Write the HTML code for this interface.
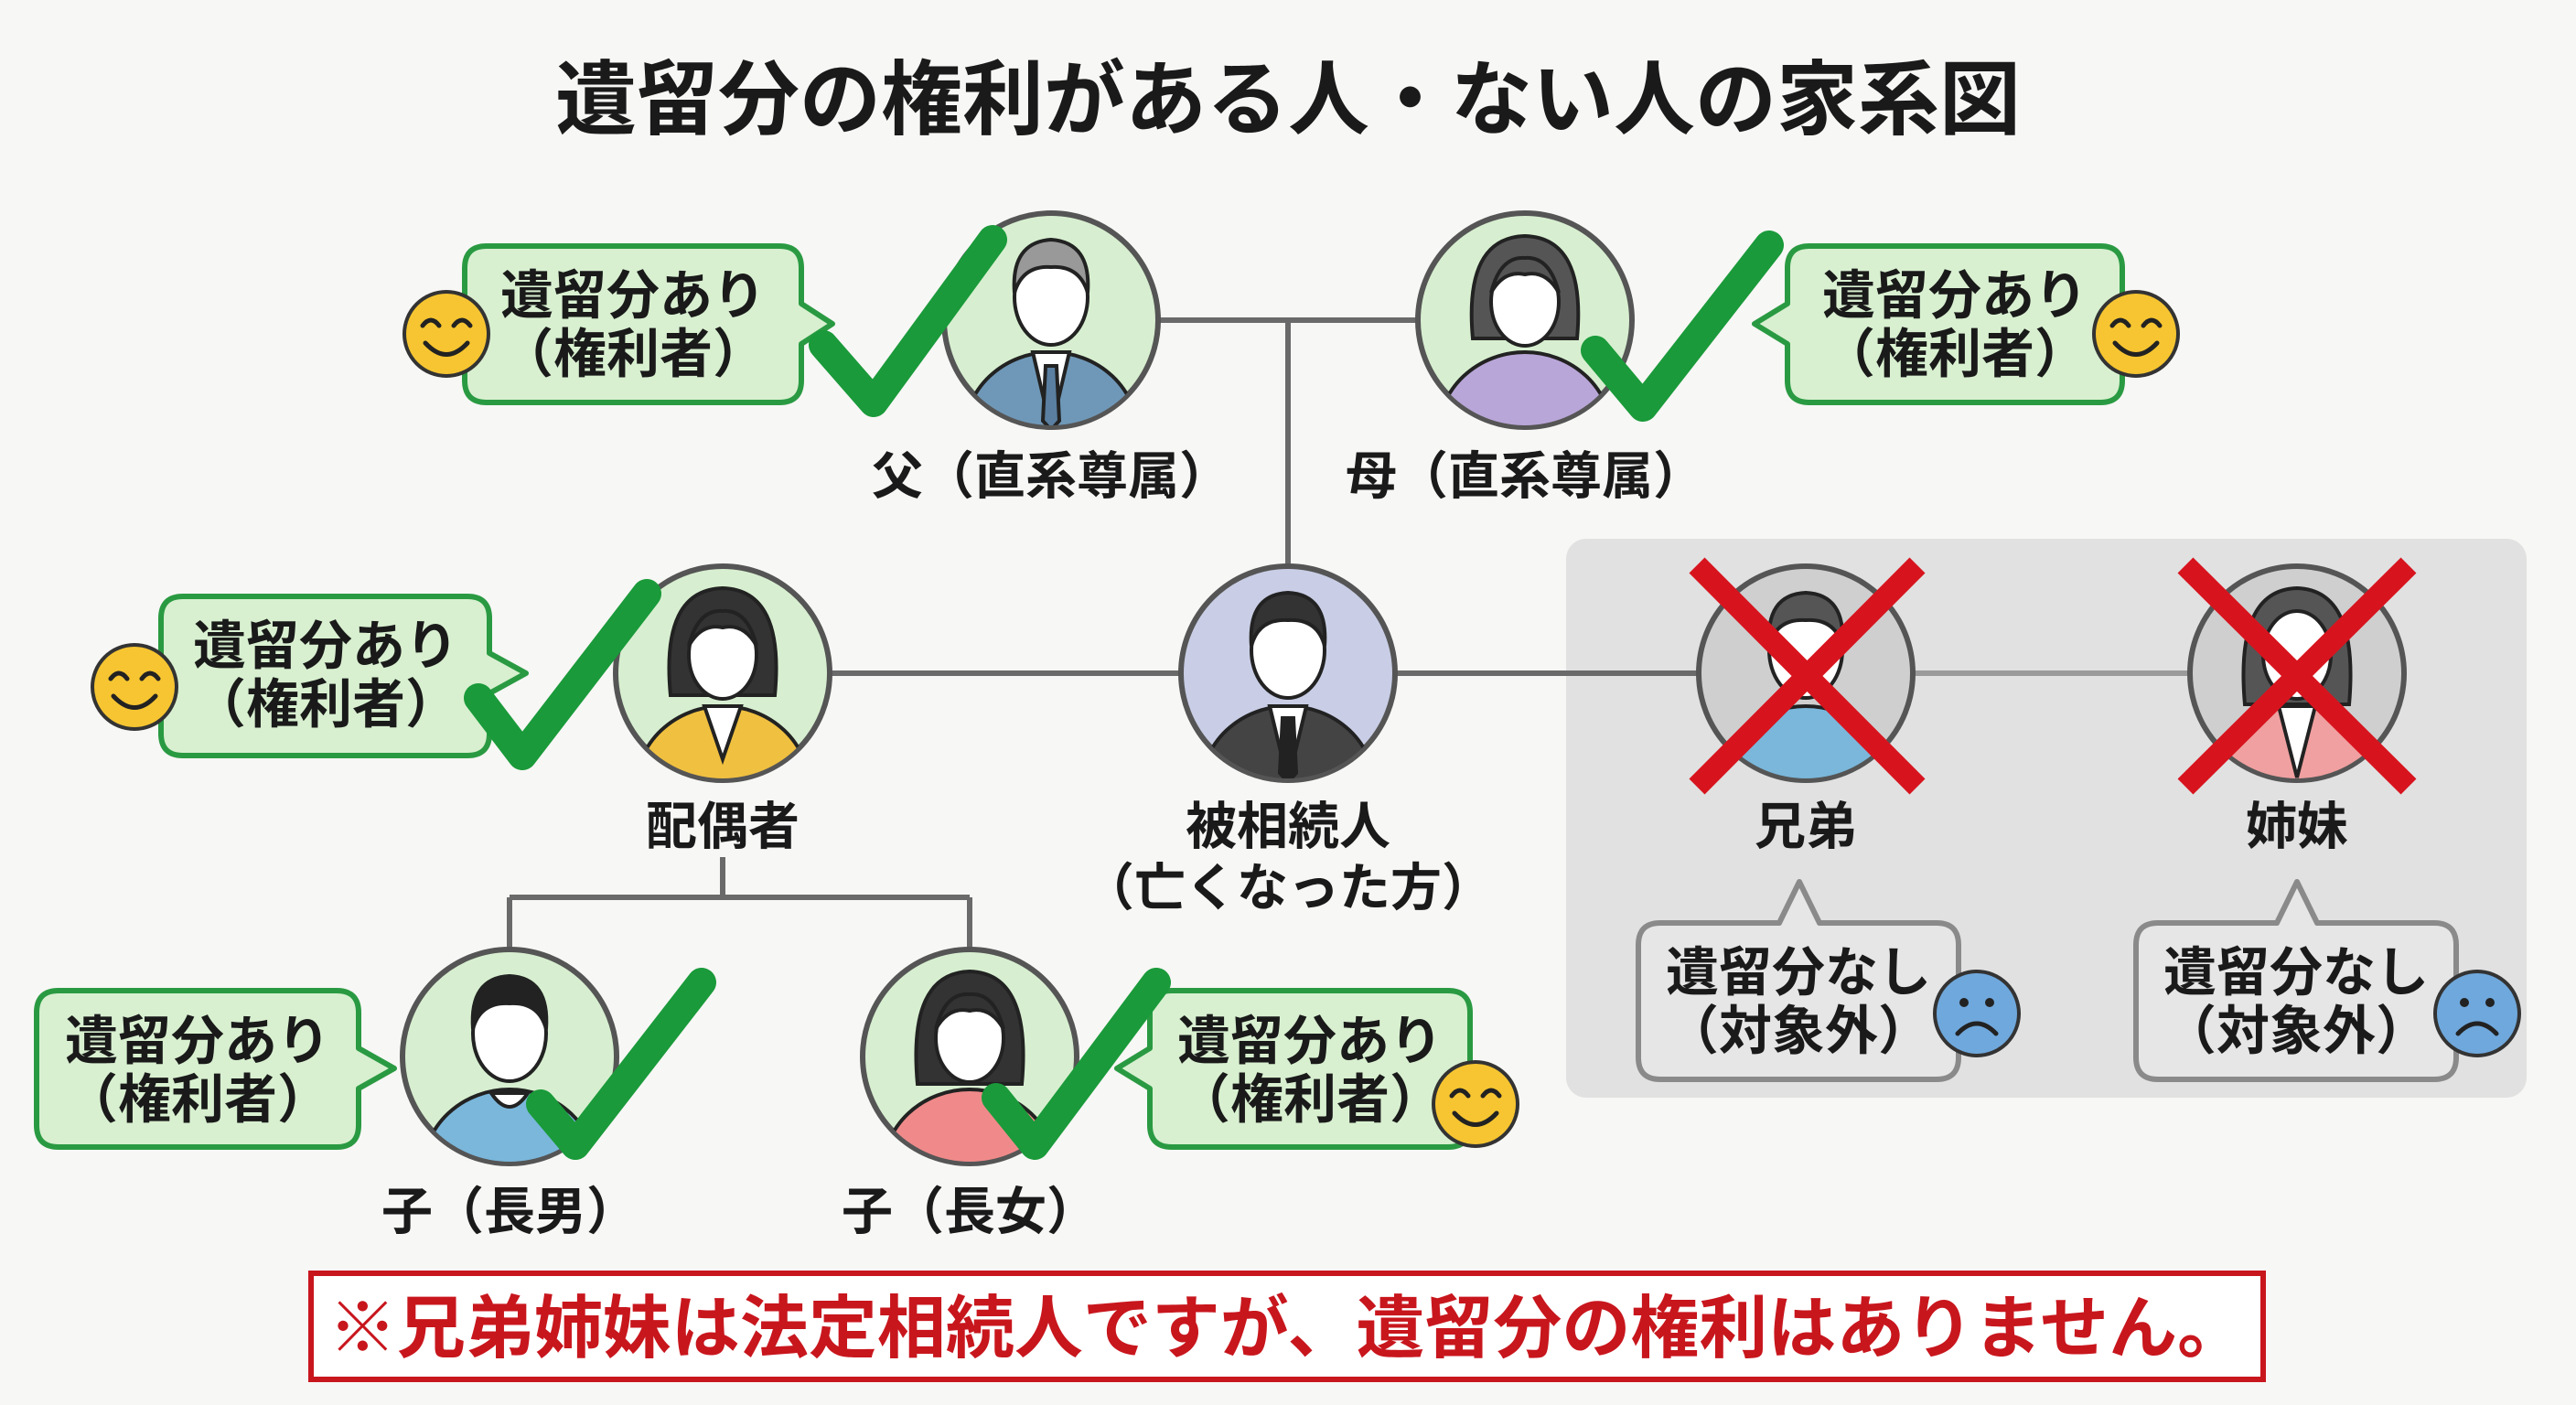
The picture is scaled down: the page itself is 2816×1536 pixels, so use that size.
<!DOCTYPE html>
<html><head><meta charset="utf-8"><style>
html,body{margin:0;padding:0;background:#f7f7f5;}
svg{display:block;}
text{font-family:"Liberation Sans","Noto Sans CJK JP",sans-serif;font-weight:bold;fill:#1a1a1a;text-anchor:middle;}
</style></head><body>
<svg width="2816" height="1536" viewBox="0 0 2816 1536" xmlns="http://www.w3.org/2000/svg">
<defs>
<clipPath id="k1"><circle cx="1149" cy="350" r="115"/></clipPath>
<clipPath id="k2"><circle cx="1667" cy="350" r="115"/></clipPath>
<clipPath id="k3"><circle cx="1408" cy="736" r="115"/></clipPath>
<clipPath id="k4"><circle cx="790" cy="736" r="115"/></clipPath>
<clipPath id="k5"><circle cx="1974" cy="736" r="115"/></clipPath>
<clipPath id="k6"><circle cx="2511" cy="736" r="115"/></clipPath>
<clipPath id="k7"><circle cx="557" cy="1155" r="115"/></clipPath>
<clipPath id="k8"><circle cx="1060" cy="1155" r="115"/></clipPath>
</defs>
<rect width="2816" height="1536" fill="#f7f7f5"/>
<text x="1408" y="140" style="font-size:89px">遺留分の権利がある人・ない人の家系図</text>

<rect x="1712" y="589" width="1050" height="611" rx="22" fill="#e1e1e1"/>

<g stroke="#6a6a6a" stroke-width="6" fill="none">
<line x1="1264" y1="350" x2="1552" y2="350"/>
<line x1="1408" y1="350" x2="1408" y2="621"/>
<line x1="905" y1="736" x2="1293" y2="736"/>
<line x1="1523" y1="736" x2="1859" y2="736"/>
<line x1="2089" y1="736" x2="2396" y2="736" stroke="#9a9a9a"/>
<line x1="790" y1="937" x2="790" y2="981"/>
<line x1="557" y1="981" x2="1060" y2="981"/>
<line x1="557" y1="981" x2="557" y2="1040"/>
<line x1="1060" y1="981" x2="1060" y2="1040"/>
</g>

<g stroke="#555" stroke-width="6">
<circle cx="1149" cy="350" r="117" fill="#d7efd0"/>
<circle cx="1667" cy="350" r="117" fill="#d7efd0"/>
<circle cx="1408" cy="736" r="117" fill="#c9cee6"/>
<circle cx="790" cy="736" r="117" fill="#d7efd0"/>
<circle cx="1974" cy="736" r="117" fill="#cfcfcf"/>
<circle cx="2511" cy="736" r="117" fill="#cfcfcf"/>
<circle cx="557" cy="1155" r="117" fill="#d7efd0"/>
<circle cx="1060" cy="1155" r="117" fill="#d7efd0"/>
</g>
<g stroke="#222" stroke-width="4">
<g clip-path="url(#k1)"><ellipse cx="1149" cy="475" rx="95" ry="90" fill="#6f98b8"/><path d="M1129 385 L1149 470 L1169 385Z" fill="#fff"/><path d="M1143 400 L1155 400 L1158 460 L1149 470 L1140 460Z" fill="#5a7fa0"/></g>
<ellipse cx="1149" cy="325" rx="40" ry="52" fill="#fff"/><path d="M1109 320 Q1105 265 1149 262 Q1193 265 1189 320 Q1180 290 1149 292 Q1118 290 1109 320Z" fill="#999"/>
<path d="M1610 370 Q1600 260 1667 258 Q1734 260 1724 370Z" fill="#555"/>
<g clip-path="url(#k2)"><ellipse cx="1667" cy="475" rx="95" ry="90" fill="#b9a6d8"/></g>
<ellipse cx="1667" cy="330" rx="37" ry="48" fill="#fff"/><path d="M1630 320 Q1640 280 1667 282 Q1694 280 1704 320 Q1690 295 1667 300 Q1644 295 1630 320Z" fill="#555"/>
<g clip-path="url(#k3)"><ellipse cx="1408" cy="862" rx="95" ry="90" fill="#444"/><path d="M1388 772 L1408 855 L1428 772Z" fill="#fff"/><path d="M1402 785 L1414 785 L1417 845 L1408 855 L1399 845Z" fill="#222"/></g>
<ellipse cx="1408" cy="711" rx="40" ry="52" fill="#fff"/><path d="M1368 706 Q1364 650 1408 648 Q1452 650 1448 706 Q1440 676 1408 678 Q1376 676 1368 706Z" fill="#333"/>
<path d="M733 760 Q722 645 790 643 Q858 645 847 760Z" fill="#333"/>
<g clip-path="url(#k4)"><ellipse cx="790" cy="862" rx="95" ry="90" fill="#f0c040"/><path d="M770 772 L790 830 L810 772Z" fill="#fff"/></g>
<ellipse cx="790" cy="716" rx="37" ry="48" fill="#fff"/><path d="M753 706 Q763 666 790 668 Q817 666 827 706 Q813 681 790 686 Q767 681 753 706Z" fill="#333"/>
<g clip-path="url(#k5)"><ellipse cx="1974" cy="862" rx="95" ry="90" fill="#7ab7db"/></g>
<ellipse cx="1974" cy="711" rx="40" ry="52" fill="#fff"/><path d="M1934 706 Q1930 650 1974 648 Q2018 650 2014 706 Q2006 676 1974 678 Q1942 676 1934 706Z" fill="#555"/>
<path d="M2454 770 Q2443 645 2511 643 Q2579 645 2568 770Z" fill="#555"/>
<g clip-path="url(#k6)"><ellipse cx="2511" cy="862" rx="95" ry="90" fill="#f0a0a0"/><path d="M2491 772 L2511 850 L2531 772Z" fill="#fff"/></g>
<ellipse cx="2511" cy="716" rx="37" ry="48" fill="#fff"/>
<g clip-path="url(#k7)"><ellipse cx="557" cy="1281" rx="95" ry="90" fill="#7ab7db"/><path d="M537 1195 Q557 1225 577 1195Z" fill="#fff"/></g>
<ellipse cx="557" cy="1130" rx="40" ry="52" fill="#fff"/><path d="M517 1125 Q513 1069 557 1067 Q601 1069 597 1125 Q589 1095 557 1097 Q525 1095 517 1125Z" fill="#222"/>
<path d="M1003 1185 Q992 1064 1060 1062 Q1128 1064 1117 1185Z" fill="#333"/>
<g clip-path="url(#k8)"><ellipse cx="1060" cy="1281" rx="95" ry="90" fill="#f08a8a"/></g>
<ellipse cx="1060" cy="1135" rx="37" ry="48" fill="#fff"/><path d="M1023 1125 Q1033 1085 1060 1087 Q1087 1085 1097 1125 Q1083 1100 1060 1105 Q1037 1100 1023 1125Z" fill="#333"/>
</g>

<g stroke="#d7141e" stroke-width="24" stroke-linecap="butt">
<line x1="1855" y1="618" x2="2096" y2="860"/><line x1="2096" y1="618" x2="1855" y2="860"/>
<line x1="2389" y1="618" x2="2633" y2="860"/><line x1="2633" y1="618" x2="2389" y2="860"/>
</g>

<g fill="#d8f0d0" stroke="#2a9a42" stroke-width="6" stroke-linejoin="round">
<path d="M532 269 H852 Q876 269 876 293 V332 L910 354 L876 376 V416 Q876 440 852 440 H532 Q508 440 508 416 V293 Q508 269 532 269Z"/>
<path d="M200 652 H511 Q535 652 535 676 V714 L575 736 L535 758 V802 Q535 826 511 826 H200 Q176 826 176 802 V676 Q176 652 200 652Z"/>
<path d="M64 1083 H368 Q392 1083 392 1107 V1146 L431 1168 L392 1190 V1230 Q392 1254 368 1254 H64 Q40 1254 40 1230 V1107 Q40 1083 64 1083Z"/>
<path d="M1978 269 H2296 Q2320 269 2320 293 V416 Q2320 440 2296 440 H1978 Q1954 440 1954 416 V376 L1918 354 L1954 332 V293 Q1954 269 1978 269Z"/>
<path d="M1281 1083 H1583 Q1607 1083 1607 1107 V1230 Q1607 1254 1583 1254 H1281 Q1257 1254 1257 1230 V1190 L1221 1168 L1257 1146 V1107 Q1257 1083 1281 1083Z"/>
</g>
<g fill="#e6e6e6" stroke="#8a8a8a" stroke-width="6" stroke-linejoin="round">
<path d="M1815 1009 H1945 L1967 964 L1989 1009 H2117 Q2141 1009 2141 1033 V1156 Q2141 1180 2117 1180 H1815 Q1791 1180 1791 1156 V1033 Q1791 1009 1815 1009Z"/>
<path d="M2359 1009 H2489 L2511 964 L2533 1009 H2661 Q2685 1009 2685 1033 V1156 Q2685 1180 2661 1180 H2359 Q2335 1180 2335 1156 V1033 Q2335 1009 2359 1009Z"/>
</g>

<g style="font-size:58px">
<text x="692" y="343">遺留分あり</text><text x="692" y="407">（権利者）</text>
<text x="356" y="726">遺留分あり</text><text x="356" y="790">（権利者）</text>
<text x="216" y="1158">遺留分あり</text><text x="216" y="1222">（権利者）</text>
<text x="2137" y="343">遺留分あり</text><text x="2137" y="407">（権利者）</text>
<text x="1432" y="1158">遺留分あり</text><text x="1432" y="1222">（権利者）</text>
<text x="1966" y="1083">遺留分なし</text><text x="1966" y="1147">（対象外）</text>
<text x="2510" y="1083">遺留分なし</text><text x="2510" y="1147">（対象外）</text>
</g>

<g fill="none" stroke="#1a9a3a" stroke-width="32" stroke-linecap="round" stroke-linejoin="round">
<polyline points="900,377 955,440 1085,262"/>
<polyline points="1744,383 1796,445 1934,268"/>
<polyline points="523,763 571,826 707,649"/>
<polyline points="591,1207 629,1252 767,1074"/>
<polyline points="1089,1200 1131,1252 1264,1074"/>
</g>

<g stroke="#333" stroke-width="4">
<circle cx="488" cy="365" r="46" fill="#f6c531"/>
<circle cx="2335" cy="365" r="46" fill="#f6c531"/>
<circle cx="147" cy="751" r="46" fill="#f6c531"/>
<circle cx="1613" cy="1207" r="46" fill="#f6c531"/>
<circle cx="2161" cy="1108" r="46" fill="#6fa8dc"/>
<circle cx="2708" cy="1108" r="46" fill="#6fa8dc"/>
</g>
<g fill="none" stroke="#222" stroke-width="5" stroke-linecap="round">
<path d="M462 356 Q471 344 480 356 M496 356 Q505 344 514 356 M465 375 Q488 400 511 375"/>
<path d="M2309 356 Q2318 344 2327 356 M2343 356 Q2352 344 2361 356 M2312 375 Q2335 400 2358 375"/>
<path d="M121 742 Q130 730 139 742 M155 742 Q164 730 173 742 M124 761 Q147 786 170 761"/>
<path d="M1587 1198 Q1596 1186 1605 1198 M1621 1198 Q1630 1186 1639 1198 M1590 1217 Q1613 1242 1636 1217"/>
<path d="M2140 1130 Q2161 1108 2182 1130"/>
<path d="M2687 1130 Q2708 1108 2729 1130"/>
</g>
<g fill="#222">
<circle cx="2147" cy="1096" r="5"/><circle cx="2175" cy="1096" r="5"/>
<circle cx="2694" cy="1096" r="5"/><circle cx="2722" cy="1096" r="5"/>
</g>

<g style="font-size:56px">
<text x="1149" y="540">父（直系尊属）</text>
<text x="1667" y="540">母（直系尊属）</text>
<text x="790" y="923">配偶者</text>
<text x="1408" y="923">被相続人</text>
<text x="1408" y="990">（亡くなった方）</text>
<text x="1974" y="923">兄弟</text>
<text x="2511" y="923">姉妹</text>
<text x="557" y="1344">子（長男）</text>
<text x="1060" y="1344">子（長女）</text>
</g>

<rect x="340" y="1392" width="2134" height="116" fill="#fff" stroke="#c8161d" stroke-width="6"/>
<text x="1407" y="1478" style="font-size:75px;fill:#c8161d">※兄弟姉妹は法定相続人ですが、遺留分の権利はありません。</text>
</svg>
</body></html>
